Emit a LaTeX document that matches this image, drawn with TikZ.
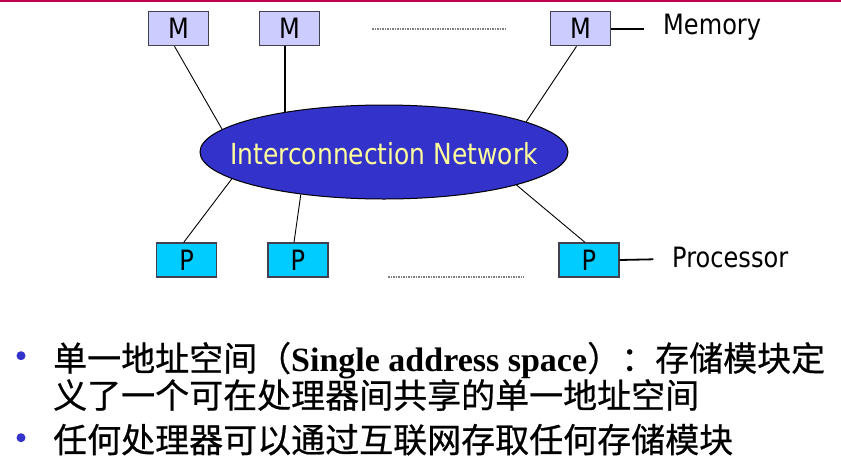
\documentclass[tikz,border=0pt]{standalone}
\usepackage{fontspec}
\usetikzlibrary{shapes.geometric}
\newfontfamily\tah[FakeStretch=0.86]{DejaVu Sans}
\newfontfamily\cjk[FakeBold=0.6]{Noto Sans CJK SC}
\newfontfamily\tnr{Liberation Serif}
\definecolor{mfill}{RGB}{204,204,255}
\definecolor{pfill}{RGB}{0,204,255}
\definecolor{netfill}{RGB}{51,51,204}
\definecolor{nettxt}{RGB}{255,255,153}
\definecolor{bulc}{RGB}{51,51,204}
\definecolor{topc}{RGB}{192,0,80}
\definecolor{boxline}{RGB}{64,64,80}
\tikzset{
  unitbox/.style={draw=boxline, line width=1.2pt, minimum width=60pt, minimum height=34pt, inner sep=0pt, font=\tah\fontsize{28}{28}\selectfont},
  membox/.style={unitbox, fill=mfill},
  procbox/.style={unitbox, fill=pfill},
  netshape/.style={ellipse, draw=black, line width=1pt, fill=netfill, minimum width=368pt, minimum height=94pt, inner sep=0pt},
  nettext/.style={text=nettxt, inner sep=0pt, font=\tah\fontsize{29}{29}\selectfont},
  lbl/.style={anchor=west, inner sep=0pt, font=\tah\fontsize{28}{28}\selectfont},
  link/.style={line width=0.9pt, black},
  dotline/.style={line width=2pt, black!50, dash pattern=on 1.5pt off 1pt},
  bullet/.style={circle, fill=bulc, minimum size=9pt, inner sep=0pt},
  cjkline/.style={anchor=base west, inner sep=0pt, font=\cjk\fontsize{34}{34}\selectfont},
}
\begin{document}
\begin{tikzpicture}[x=1pt, y=-1pt]
\useasboundingbox (0,0) rectangle (841,464);
\fill[white] (0,0) rectangle (841,464);
\draw[topc, line width=1.5pt] (0,0.75) -- (841,0.75);
% memories
\node[membox] (m1) at (178.5,28.7) {M};
\node[membox] (m2) at (289.5,28.7) {M};
\node[membox] (m3) at (580.5,28.7) {M};
% processors
\node[procbox] (p1) at (186.7,260) {P};
\node[procbox] (p2) at (298,260) {P};
\node[procbox] (p3) at (589,260) {P};
% network
\node[netshape] (net) at (384,152) {};
\node[nettext] (nett) at (384,153.5) {Interconnection Network};
% links
\draw[link] ([xshift=-4pt]m1.south) -- (net.172);
\path (net.158) coordinate (m2foot);
\draw[link, line width=2pt] (m2.south -| m2foot) -- (m2foot);
\draw[link] ([xshift=-4pt]m3.south) -- (net.12);
\draw[link] ([xshift=-3pt]p1.north) -- (net.190);
\draw[link] ([xshift=-4pt]p2.north) -- (net.207);
\draw[link] ([xshift=-4pt]p3.north) -- (net.346.5);
% dotted ellipses
\coordinate (d1a) at (372,28.7);
\coordinate (d1b) at (507,28.7);
\coordinate (d2a) at (388,276.7);
\coordinate (d2b) at (524,276.7);
\draw[dotline] (d1a) -- (d1b);
\draw[dotline] (d2a) -- (d2b);
% labels
\coordinate (memend) at (644,28.7);
\coordinate (procend) at (653.3,259.3);
\draw[link, line width=1.8pt] (m3.east) -- (memend);
\draw[link, line width=1.8pt] (p3.east) -- (procend);
\node[lbl] (memlbl) at (663,27) {Memory};
\node[lbl] (proclbl) at (672,257.5) {Processor};
% bullets
\node[bullet] (b1) at (21,355.7) {};
\node[bullet] (b2) at (21,437.7) {};
\node[cjkline] (t1) at (53,371) {单一地址空间（{\tnr\bfseries Single address space}）：存储模块定};
\node[cjkline] (t2) at (53,408) {义了一个可在处理器间共享的单一地址空间};
\node[cjkline] (t3) at (53,452.5) {任何处理器可以通过互联网存取任何存储模块};
\end{tikzpicture}
\end{document}
